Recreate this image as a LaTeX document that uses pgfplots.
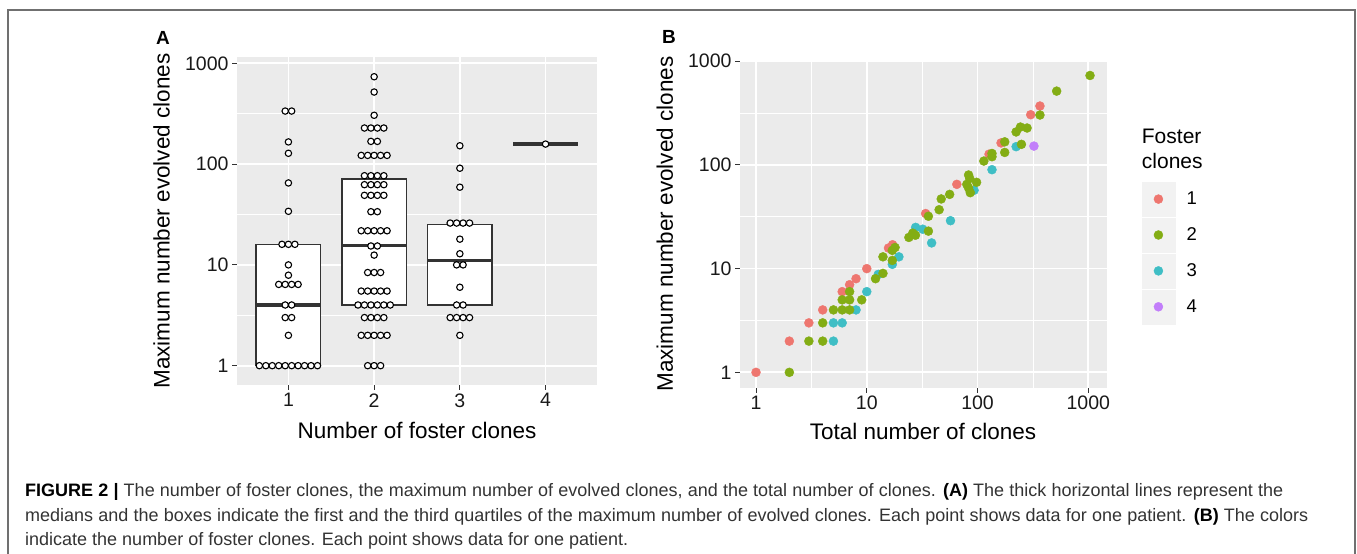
\documentclass[border=0pt]{standalone}
\usepackage{pgfplots}
\pgfplotsset{compat=1.18}
\usepackage{fontspec}
\setmainfont{Liberation Sans}
\definecolor{panelbg}{HTML}{EBEBEB}
\definecolor{keybg}{HTML}{F2F2F2}
\definecolor{tickc}{HTML}{333333}
\definecolor{cR}{HTML}{EE766F}
\definecolor{cG}{HTML}{83AD14}
\definecolor{cC}{HTML}{3FBEC5}
\definecolor{cP}{HTML}{C27EFA}
\definecolor{capc}{HTML}{333333}
\definecolor{framec}{HTML}{707070}
\pgfplotsset{
 gg/.style={
  scale only axis,
  anchor=south west,
  axis background/.style={fill=panelbg},
  axis line style={draw=none},
  tick align=outside,
  tick pos=left,
  major tick length=5pt,
  minor tick length=0pt,
  tick style={tickc, line width=1pt},
  grid=both,
  major grid style={white, line width=1.7pt},
  minor grid style={white, line width=0.85pt},
  ticklabel style={font=\fontsize{19.5}{22}\selectfont, text=black!90},
 },
 dotA/.style={only marks, mark=*, mark size=3.2pt, mark options={fill=white, draw=black, line width=1.1pt}},
 ptB/.style={only marks, mark=*, mark size=4.5pt, color=#1, mark options={draw=none, fill=#1},
   legend image code/.code={\fill[keybg] (0pt,-17pt) rectangle (32.6pt,17pt); \fill[#1] (16.3pt,0pt) circle (4.5pt);}},
}
\begin{document}
\begin{tikzpicture}
\path[use as bounding box] (0pt,0pt) rectangle (1357pt,-554pt);
\draw[framec, line width=1.3pt] (8pt,-560pt) -- (8pt,-10pt) -- (1355pt,-10pt) -- (1355pt,-560pt);

% ---------------- Panel A ----------------
\begin{axis}[gg, at={(237pt,-385pt)}, width=360pt, height=328pt,
  xmin=0.4, xmax=4.6, ymode=log, ymin=0.643, ymax=1155,
  xtick={1,2,3,4}, xticklabels={1,2,3,4},
  ytick={1,10,100,1000}, yticklabels={1,10,100,1000},
  minor ytick={3.1623,31.623,316.23}]
% boxes
\addplot[draw=tickc, fill=white, line width=1.4pt] coordinates {(0.623,1) (1.377,1) (1.377,16) (0.623,16)} --cycle;
\addplot[draw=tickc, fill=white, line width=1.4pt] coordinates {(1.623,4) (2.377,4) (2.377,71) (1.623,71)} --cycle;
\addplot[draw=tickc, fill=white, line width=1.4pt] coordinates {(2.623,4) (3.377,4) (3.377,25) (2.623,25)} --cycle;
% medians
\addplot[draw=tickc, line width=3.4pt] coordinates {(0.623,4) (1.377,4)};
\addplot[draw=tickc, line width=3.4pt] coordinates {(1.623,15.5) (2.377,15.5)};
\addplot[draw=tickc, line width=3.4pt] coordinates {(2.623,11.1) (3.377,11.1)};
\addplot[draw=tickc, line width=3.4pt] coordinates {(3.623,158) (4.377,158)};
% dots group 1
\addplot[dotA] coordinates {
(0.6607,1) (0.7361,1) (0.8115,1) (0.8869,1) (0.9623,1) (1.0377,1) (1.1131,1) (1.1885,1) (1.2639,1) (1.3393,1)
(1,2) (0.9623,3) (1.0377,3) (0.9623,4) (1.0377,4)
(0.8869,6.4) (0.9623,6.4) (1.0377,6.4) (1.1131,6.4)
(1,7.9) (1,10) (0.9246,16) (1,16) (1.0754,16)
(1,34) (1,65) (1,128) (1,166) (0.9623,336) (1.0377,336)};
% dots group 2
\addplot[dotA] coordinates {
(1.9246,1) (2,1) (2.0754,1)
(1.8492,2) (1.9246,2) (2,2) (2.0754,2) (2.1508,2)
(1.8869,3) (1.9623,3) (2.0377,3) (2.1131,3)
(1.8115,4) (1.8869,4) (1.9623,4) (2.0377,4) (2.1131,4) (2.1885,4)
(1.8492,5.5) (1.9246,5.5) (2,5.5) (2.0754,5.5) (2.1508,5.5)
(1.9246,8.4) (2,8.4) (2.0754,8.4)
(2,12.5) (1.9623,15.4) (2.0377,15.4)
(1.8492,21.8) (1.9246,21.8) (2,21.8) (2.0754,21.8) (2.1508,21.8)
(1.9623,33.7) (2.0377,33.7)
(1.8869,49) (1.9623,49) (2.0377,49) (2.1131,49)
(1.8869,62.5) (1.9623,62.5) (2.0377,62.5) (2.1131,62.5)
(1.8869,76.7) (1.9623,76.7) (2.0377,76.7) (2.1131,76.7)
(1.8492,122) (1.9246,122) (2,122) (2.0754,122) (2.1508,122)
(1.9623,168) (2.0377,168)
(1.8869,228) (1.9623,228) (2.0377,228) (2.1131,228)
(2,305) (2,519) (2,736)};
% dots group 3
\addplot[dotA] coordinates {
(3,2) (2.8869,3) (2.9623,3) (3.0377,3) (3.1131,3)
(2.9623,4) (3.0377,4) (3,6) (2.9623,10) (3.0377,10)
(3,12.9) (3,18)
(2.8869,26) (2.9623,26) (3.0377,26) (3.1131,26)
(3,59) (3,91) (3,152)};
% group 4
\addplot[dotA] coordinates {(4,158)};
\end{axis}

% ---------------- Panel B ----------------
\begin{axis}[gg, at={(740pt,-387.7pt)}, width=366.7pt, height=327pt,
  xmode=log, ymode=log, xmin=0.717, xmax=1466, ymin=0.711, ymax=1012,
  xtick={1,10,100,1000}, xticklabels={1,10,100,1000},
  ytick={1,10,100,1000}, yticklabels={1,10,100,1000},
  minor xtick={3.1623,31.623,316.23}, minor ytick={3.1623,31.623,316.23},
  legend style={at={(axis description cs:1.0955,0.63)}, anchor=north west,
    draw=none, fill=none, inner sep=0pt, row sep=1.5pt, column sep=11.7pt,
    font=\fontsize{18.5}{20}\selectfont, cells={anchor=west}, nodes={inner sep=0pt}}]
\addplot[ptB=cR] coordinates {
(1,1) (2,2) (3,3) (4,4) (6,6) (7,7) (8,8) (10,10) (15.7,15.8) (17.1,17)
(34,34) (65,65) (127,127) (163,163) (302,305) (366,370)};
\addlegendentry{1}
\addplot[ptB=cC, forget plot] coordinates {
(5,2) (5,3) (6,3) (8,4) (10,6) (12.7,8.8) (17,11) (19.5,13) (27.6,25) (32,24)
(38.5,17.7) (57,29) (93,57) (135,90) (223,150)};
\addplot[ptB=cG] coordinates {
(2,1) (3,2) (4,2) (4,3) (5,4) (6,4) (7,4) (6,5) (7,5) (7,6) (9,5) (12,8) (14,9) (14,13)
(17,15) (18,16) (17,12) (24,20) (26,22) (27.5,21) (36,32) (36,23) (45,37) (47,47) (56,52)
(83,80) (85,74) (80,65) (83,60) (86,54) (98,68)
(114,109) (135,129) (135,120) (176,167) (176,132) (223,208) (244,232) (280,227) (249,158)
(366,303) (518,515) (1036,729)};
\addlegendentry{2}
\addlegendimage{ptB=cC}
\addlegendentry{3}
\addplot[ptB=cP] coordinates {(323,152)};
\addlegendentry{4}
\end{axis}

% ---------------- Text ----------------
\node[anchor=base west, inner sep=0pt, font=\bfseries\fontsize{19}{22}\selectfont] at (156pt,-44pt) {A};
\node[anchor=base west, inner sep=0pt, font=\bfseries\fontsize{19}{22}\selectfont] at (662pt,-43.5pt) {B};
\node[rotate=90, anchor=base, font=\fontsize{22.5}{26}\selectfont] at (169.5pt,-221pt) {Maximum number evolved clones};
\node[rotate=90, anchor=base, font=\fontsize{22.5}{26}\selectfont] at (672.8pt,-224pt) {Maximum number evolved clones};
\node[anchor=base, font=\fontsize{22.5}{26}\selectfont] at (417pt,-438pt) {Number of foster clones};
\node[anchor=base, font=\fontsize{22.5}{26}\selectfont] at (923pt,-439pt) {Total number of clones};
\node[anchor=base west, inner sep=0pt, font=\fontsize{21}{25}\selectfont] at (1141.7pt,-143.3pt) {Foster};
\node[anchor=base west, inner sep=0pt, font=\fontsize{21}{25}\selectfont] at (1141.7pt,-168.3pt) {clones};

% caption
\node[anchor=base west, inner sep=0pt, text=capc, font=\fontsize{18}{20}\selectfont] at (25pt,-496.7pt)
 {\makebox[1258pt][s]{\textbf{\color{black}FIGURE 2 |} The number of foster clones, the maximum number of evolved clones, and the total number of clones. \textbf{\color{black}(A)} The thick horizontal lines represent the}};
\node[anchor=base west, inner sep=0pt, text=capc, font=\fontsize{18}{20}\selectfont] at (25pt,-521.7pt)
 {\makebox[1283pt][s]{medians and the boxes indicate the first and the third quartiles of the maximum number of evolved clones. Each point shows data for one patient. \textbf{\color{black}(B)} The colors}};
\node[anchor=base west, inner sep=0pt, text=capc, font=\fontsize{18}{20}\selectfont] at (25pt,-545pt)
 {indicate the number of foster clones. Each point shows data for one patient.};
\end{tikzpicture}
\end{document}
